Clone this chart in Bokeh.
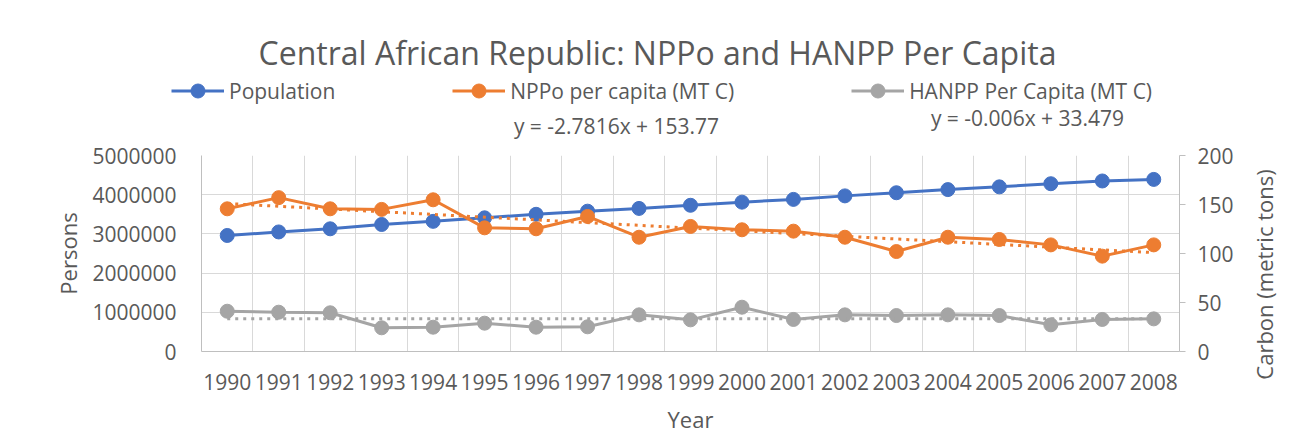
from bokeh.plotting import figure
from bokeh.layouts import column, row
from bokeh.models import (FactorRange, Range1d, LinearAxis, SingleIntervalTicker, FixedTicker,
                          NumeralTickFormatter, Legend, LegendItem, Label)
from bokeh.embed import file_html
from bokeh.resources import INLINE

# ---------------- data ----------------
years = ["1990", "1991", "1992", "1993", "1994", "1995", "1996", "1997", "1998", "1999",
         "2000", "2001", "2002", "2003", "2004", "2005", "2006", "2007", "2008"]
population = [2960000, 3050000, 3130000, 3240000, 3320000, 3410000, 3500000, 3580000, 3650000,
              3730000, 3810000, 3880000, 3970000, 4050000, 4130000, 4200000, 4280000, 4350000, 4390000]
nppo_per_capita = [145.6, 157.0, 145.6, 145.0, 154.8, 126.2, 125.2, 137.8, 116.6, 127.6,
                   124.2, 122.8, 116.6, 102.0, 116.6, 114.3, 108.8, 97.3, 108.8]
hanpp_per_capita = [41.1, 40.1, 39.5, 24.2, 24.8, 28.9, 24.8, 25.2, 37.4, 32.3,
                    45.2, 32.7, 37.4, 36.7, 37.4, 36.7, 27.2, 32.7, 33.3]
nppo_slope, nppo_intercept = -2.7816, 153.77
hanpp_slope, hanpp_intercept = -0.006, 33.479

title_text = "Central African Republic: NPPo and HANPP Per Capita"
series_names = ["Population", "NPPo per capita (MT C)", "HANPP Per Capita (MT C)"]
left_title = "Persons"
right_title = "Carbon (metric tons)"
x_title = "Year"

# ---------------- style ----------------
BLUE, ORANGE, GRAY = "#4472C4", "#ED7D31", "#A5A5A5"
TXT = "#595959"
GRID = "#D9D9D9"
AXIS = "#BFBFBF"
FONT = "Open Sans"
FS = "21px"

W, H = 1311, 439
HEAD_H = 140          # header strip (title, legend, equations)
MAIN_W = 1245         # main chart width; the rest holds the right axis title
MAIN_H = H - HEAD_H
FRAME_L, FRAME_R, FRAME_T, FRAME_B = 201, 1179, 155, 351


def bare(fig):
    fig.outline_line_color = None
    fig.grid.visible = False
    fig.background_fill_color = "white"
    fig.border_fill_color = "white"
    fig.frame_align = False
    return fig


def lab(fig, text, x, y, size=FS):
    fig.add_layout(Label(text=text, x=x, y=y, x_units="screen", y_units="screen",
                         text_align="center", text_baseline="middle", text_font=FONT,
                         text_font_size=size, text_color=TXT))


# ---------------- main chart ----------------
p = figure(width=MAIN_W, height=MAIN_H, output_backend="svg", toolbar_location=None,
           x_range=FactorRange(factors=years, range_padding=0),
           y_range=Range1d(0, 5000000),
           min_border_left=FRAME_L, min_border_right=MAIN_W - FRAME_R,
           min_border_top=FRAME_T - HEAD_H, min_border_bottom=H - FRAME_B)
p.frame_align = False
p.extra_y_ranges = {"carbon": Range1d(0, 200)}
p.outline_line_color = None
p.background_fill_color = "white"
p.border_fill_color = "white"

p.xgrid.ticker = FixedTicker(ticks=list(range(len(years) + 1)))
p.xgrid.grid_line_color = GRID
p.ygrid.grid_line_color = GRID

xa = p.xaxis[0]
xa.axis_line_color = AXIS
xa.major_tick_line_color = None
xa.minor_tick_line_color = None
xa.major_label_standoff = 16
xa.major_label_text_font = FONT
xa.major_label_text_font_size = FS
xa.major_label_text_color = TXT
xa.axis_label = x_title
xa.axis_label_standoff = 11
xa.axis_label_text_font = FONT
xa.axis_label_text_font_size = "22px"
xa.axis_label_text_font_style = "normal"
xa.axis_label_text_color = TXT

ya = p.yaxis[0]
ya.ticker = SingleIntervalTicker(interval=1000000, num_minor_ticks=0)
ya.formatter = NumeralTickFormatter(format="0")
ya.axis_line_color = AXIS
ya.major_tick_line_color = None
ya.minor_tick_line_color = None
ya.major_label_standoff = 19
ya.major_label_text_font = FONT
ya.major_label_text_font_size = FS
ya.major_label_text_color = TXT
ya.axis_label = left_title
ya.axis_label_standoff = 6
ya.axis_label_text_font = FONT
ya.axis_label_text_font_size = "22px"
ya.axis_label_text_font_style = "normal"
ya.axis_label_text_color = TXT

ra = LinearAxis(y_range_name="carbon", ticker=SingleIntervalTicker(interval=50, num_minor_ticks=0))
ra.axis_line_color = AXIS
ra.major_tick_line_color = AXIS
ra.major_tick_out = 6
ra.major_tick_in = 0
ra.minor_tick_line_color = None
ra.major_label_standoff = 12
ra.major_label_text_font = FONT
ra.major_label_text_font_size = FS
ra.major_label_text_color = TXT
p.add_layout(ra, "right")

p.line(years, population, line_color=BLUE, line_width=3)
p.scatter(years, population, size=14, fill_color=BLUE, line_color=BLUE)
p.line(years, nppo_per_capita, line_color=ORANGE, line_width=3, y_range_name="carbon")
p.scatter(years, nppo_per_capita, size=14, fill_color=ORANGE, line_color=ORANGE, y_range_name="carbon")
p.line(years, hanpp_per_capita, line_color=GRAY, line_width=3, y_range_name="carbon")
p.scatter(years, hanpp_per_capita, size=14, fill_color=GRAY, line_color=GRAY, y_range_name="carbon")

# linear trendlines from the equations shown on the chart (x = 1..n)
n = len(years)
ends = [years[0], years[-1]]
p.line(ends, [nppo_slope * 1 + nppo_intercept, nppo_slope * n + nppo_intercept],
       line_color=ORANGE, line_width=3, line_dash="3 5", y_range_name="carbon")
p.line(ends, [hanpp_slope * 1 + hanpp_intercept, hanpp_slope * n + hanpp_intercept],
       line_color=GRAY, line_width=3, line_dash="3 5", y_range_name="carbon")

# ---------------- header: title, legend, trendline equations ----------------
head = bare(figure(width=MAIN_W, height=HEAD_H, output_backend="svg", toolbar_location=None,
                   x_range=Range1d(0, 1), y_range=Range1d(0, 1),
                   x_axis_location=None, y_axis_location=None,
                   min_border=0, min_border_left=0, min_border_right=0,
                   min_border_top=0, min_border_bottom=0))
# legend swatches: hidden copies of the three series (only their style is shown, in the legend)
idx = list(range(n))
items = []
for name, col, vals in zip(series_names, [BLUE, ORANGE, GRAY],
                           [population, nppo_per_capita, hanpp_per_capita]):
    lr = head.line(idx, vals, line_color=col, line_width=3, visible=False)
    sr = head.scatter(idx, vals, size=14, fill_color=col, line_color=col, visible=False)
    items.append(LegendItem(label=name, renderers=[lr, sr]))
legend = Legend(items=items, location=(171, HEAD_H - 108), orientation="horizontal",
                padding=0, margin=0, spacing=117, label_standoff=5,
                glyph_width=53, glyph_height=35, label_height=35,
                border_line_color=None, background_fill_alpha=0,
                label_text_font=FONT, label_text_font_size=FS, label_text_color=TXT)
head.add_layout(legend)

lab(head, title_text, 657, HEAD_H - 52, size="32px")
lab(head, f"y = {nppo_slope}x + {nppo_intercept}", 616, HEAD_H - 125)
lab(head, f"y = {hanpp_slope}x + {hanpp_intercept}", 1027, HEAD_H - 117)

# ---------------- right strip: right axis title (reads bottom to top) ----------------
side = bare(figure(width=W - MAIN_W, height=H, output_backend="svg", toolbar_location=None,
                   x_range=Range1d(0, 1), y_range=Range1d(0, 1),
                   x_axis_location=None, y_axis_location="left",
                   min_border_left=33, min_border_right=0,
                   min_border_top=274 - 65, min_border_bottom=H - (274 + 65)))
sa = side.yaxis[0]
sa.ticker = FixedTicker(ticks=[])
sa.axis_line_color = None
sa.major_tick_line_color = None
sa.minor_tick_line_color = None
sa.major_tick_out = 0
sa.major_label_standoff = 0
sa.axis_label = right_title
sa.axis_label_standoff = 0
sa.axis_label_text_font = FONT
sa.axis_label_text_font_size = "22px"
sa.axis_label_text_font_style = "normal"
sa.axis_label_text_color = TXT

layout = row(column(head, p, spacing=0), side, spacing=0)
open("out.html", "w").write(file_html(layout, INLINE))
